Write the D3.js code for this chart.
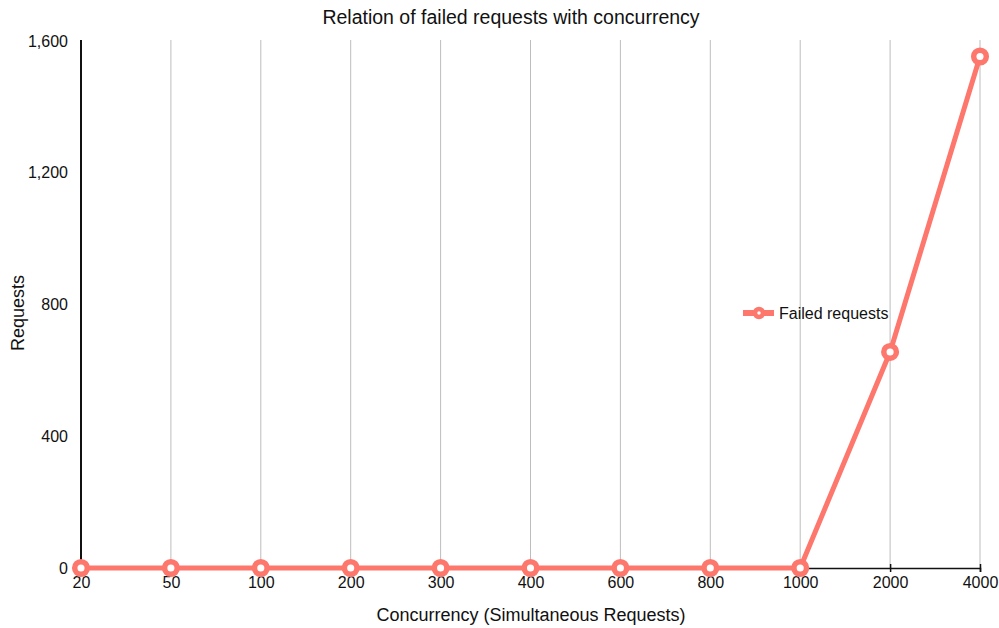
<!DOCTYPE html>
<html>
<head>
<meta charset="utf-8">
<script src="https://cdn.jsdelivr.net/npm/d3@7"></script>
<style>
  html, body { margin: 0; padding: 0; background: #fff; }
  svg { display: block; font-family: "Liberation Sans", Arial, Helvetica, sans-serif; }
</style>
</head>
<body>
<svg id="chart" width="999" height="628"></svg>
<script>
// Concurrency levels tested and failed request counts
const concurrency = ["20", "50", "100", "200", "300", "400", "600", "800", "1000", "2000", "4000"];
const failedRequests = [0, 0, 0, 0, 0, 0, 0, 0, 0, 656, 1553];
const yTicks = [0, 400, 800, 1200, 1600];
const seriesName = "Failed requests";

const lineColor = "#fd776d";
const svg = d3.select("#chart");
const W = 999, H = 628;
const margin = { top: 41, right: 19, bottom: 60, left: 81 };
const plotBottom = 568;

const x = d3.scalePoint().domain(concurrency).range([margin.left, W - margin.right]);
const y = d3.scaleLinear().domain([0, 1600]).range([plotBottom, margin.top]);

// Title
svg.append("text")
  .attr("x", 511).attr("y", 24)
  .attr("text-anchor", "middle")
  .attr("font-size", 19.5)
  .attr("fill", "#111")
  .text("Relation of failed requests with concurrency");

// Vertical gridlines at each category
svg.append("g")
  .selectAll("line")
  .data(concurrency.slice(1))
  .join("line")
  .attr("x1", d => x(d)).attr("x2", d => x(d))
  .attr("y1", y(1600) - 1).attr("y2", plotBottom)
  .attr("stroke", "#bdbdbd")
  .attr("stroke-width", 1);

// X axis
const xAxis = svg.append("g")
  .attr("transform", `translate(0,${plotBottom})`)
  .call(d3.axisBottom(x).tickSize(4).tickPadding(5));
xAxis.select(".domain").attr("stroke", "#111").attr("stroke-width", 1.5);
xAxis.selectAll(".tick line").attr("stroke", "#111").attr("stroke-width", 1.5).attr("y1", -4);
xAxis.selectAll(".tick text").attr("font-size", 16).attr("fill", "#111")
  .attr("font-family", "Liberation Sans, Arial, sans-serif");

// Y axis
const yAxis = svg.append("g")
  .attr("transform", `translate(${margin.left},0)`)
  .call(d3.axisLeft(y).tickValues(yTicks).tickFormat(d3.format(",")).tickSize(0).tickPadding(13));
yAxis.select(".domain").attr("stroke", "#111").attr("stroke-width", 2)
  .attr("d", `M0,${y(1600) - 1}V${plotBottom}`);
yAxis.selectAll(".tick text").attr("font-size", 16).attr("fill", "#111")
  .attr("font-family", "Liberation Sans, Arial, sans-serif");

// Axis titles
svg.append("text")
  .attr("x", 531).attr("y", 621)
  .attr("text-anchor", "middle")
  .attr("font-size", 18)
  .attr("fill", "#111")
  .text("Concurrency (Simultaneous Requests)");

svg.append("text")
  .attr("transform", "translate(24,313) rotate(-90)")
  .attr("text-anchor", "middle")
  .attr("font-size", 18)
  .attr("fill", "#111")
  .text("Requests");

// Series line
const data = concurrency.map((c, i) => ({ c, v: failedRequests[i] }));
svg.append("path")
  .datum(data)
  .attr("fill", "none")
  .attr("stroke", lineColor)
  .attr("stroke-width", 5)
  .attr("stroke-linejoin", "round")
  .attr("d", d3.line().x(d => x(d.c)).y(d => y(d.v)));

// Markers
svg.append("g")
  .selectAll("circle")
  .data(data)
  .join("circle")
  .attr("cx", d => x(d.c)).attr("cy", d => y(d.v))
  .attr("r", 6.3)
  .attr("fill", "#fff")
  .attr("stroke", lineColor)
  .attr("stroke-width", 5.5);

// Legend
const lg = svg.append("g").attr("transform", "translate(743,313)");
lg.append("line")
  .attr("x1", 0).attr("x2", 31).attr("y1", 0).attr("y2", 0)
  .attr("stroke", lineColor).attr("stroke-width", 6);
lg.append("circle")
  .attr("cx", 16).attr("cy", 0).attr("r", 4)
  .attr("fill", "#fff").attr("stroke", lineColor).attr("stroke-width", 4.5);
lg.append("text")
  .attr("x", 36).attr("y", 6)
  .attr("font-size", 16)
  .attr("fill", "#111")
  .text(seriesName);
</script>
</body>
</html>
